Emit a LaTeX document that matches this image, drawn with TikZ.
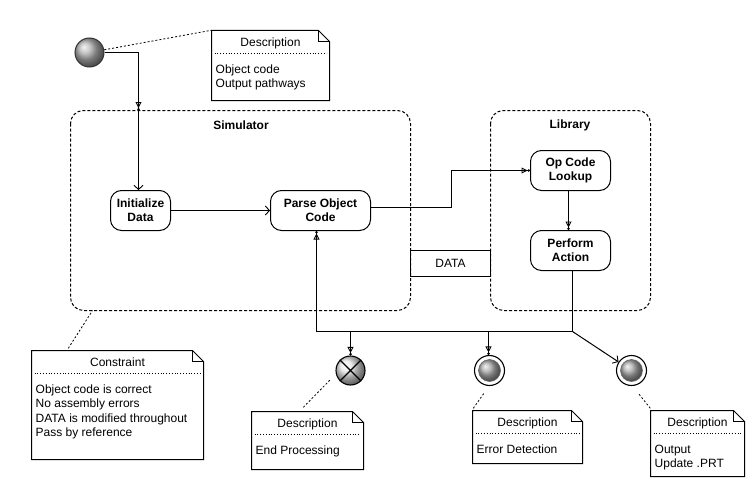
\documentclass[tikz,border=0pt]{standalone}
\usepackage{fontspec}
\setmainfont{Liberation Sans}
\usetikzlibrary{arrows.meta,calc,shadings}
\newcommand\umlnote[7]{%
  \node[minimum width={(#4-#2)*1pt}, minimum height={(#5-#3)*1pt}, inner sep=0pt] (#1) at ({(#2+#4)/2},{(#3+#5)/2}) {};
  \draw[noteline] (#2,#3) -- (#4-11,#3) -- (#4,#3+11) -- (#4,#5) -- (#2,#5) -- cycle;
  \draw[noteline] (#4-11,#3) -- (#4-11,#3+11) -- (#4,#3+11);
  \node[anchor=base] at ({(#2+#4)/2},#3+16) {#6};
  \draw[dotted, line width=0.8pt] (#2+3,#3+23) -- (#4-3,#3+23);
  \node[anchor=north west, inner sep=0pt, align=left] at (#2+4,#3+34) {#7};
}
\begin{document}
\begin{tikzpicture}[x=1pt, y=-1pt,
  font=\fontsize{12}{14.5}\selectfont,
  noteline/.style={draw, line width=1pt},
  act/.style={draw, line width=1pt, rounded corners=11pt, align=center, inner sep=0pt,
    font=\fontsize{12}{14}\selectfont\bfseries},
  part/.style={draw, line width=1pt, dash pattern=on 3pt off 2pt, rounded corners=13pt},
  conn/.style={line width=1pt},
  tri/.style={conn, -{Triangle[open,length=6pt,width=6pt,line width=0.9pt] Circle[length=2.5pt]}},
  vee/.style={conn, -{Straight Barb[length=4pt,width=9pt,line width=0.9pt]}},
  anchorline/.style={line width=0.8pt, dash pattern=on 2pt off 2pt}]
\fill[white] (0,0) rectangle (755,487);
\useasboundingbox (0,0) rectangle (755,487);

% partitions
\draw[part] (70.5,110.5) rectangle (410.5,310.5);
\draw[part] (490.5,110.5) rectangle (650.5,310.5);
\node[font=\fontsize{12}{14}\selectfont\bfseries] (simlabel) at (241,125) {Simulator};
\node[font=\fontsize{12}{14}\selectfont\bfseries] (liblabel) at (570,125) {Library};
\coordinate (simsw) at (70.5,310.5);

% data box
\node[draw, line width=1pt, minimum width=80pt, minimum height=26pt, inner sep=0pt] (data) at (450.5,263.5) {DATA};

% activities
\node[act, minimum width=60pt, minimum height=40pt] (init) at (140.5,210.5) {Initialize\\Data};
\node[act, minimum width=100pt, minimum height=40pt] (parse) at (320.5,210.5) {Parse Object\\Code};
\node[act, minimum width=80pt, minimum height=40pt] (opc) at (570.5,170.5) {Op Code\\Lookup};
\node[act, minimum width=80pt, minimum height=40pt] (perf) at (570.5,250.5) {Perform\\Action};

% start / end states
\node[circle, minimum size=29pt, inner sep=0pt, draw=black!80, line width=1pt, shading=ball, ball color=gray!60] (start) at (89.5,52.5) {};
\node[circle, minimum size=29pt, inner sep=0pt, draw, line width=1.1pt, shading=ball, ball color=gray!18] (endc) at (350.5,370.5) {};
\draw[line width=1.1pt] (endc.north west) -- (endc.south east) (endc.north east) -- (endc.south west);
\node[circle, minimum size=30pt, inner sep=0pt, draw, line width=1.1pt, fill=white] (errc) at (489.5,370.5) {};
\shade[ball color=gray!65] (errc.center) circle (11);
\draw[black!60, line width=0.6pt] (errc.center) circle (11);
\node[circle, minimum size=30pt, inner sep=0pt, draw, line width=1.1pt, fill=white] (outc) at (631.5,370.5) {};
\shade[ball color=gray!65] (outc.center) circle (11);
\draw[black!60, line width=0.6pt] (outc.center) circle (11);

% connectors
\coordinate (e1) at (138.5,110.5);
\draw[tri] (start.east) -| (e1);
\draw[vee] (e1) -- (e1 |- init.north);
\draw[vee] (init.east) -- (parse.west);
\draw[tri] ([yshift=3pt]parse.east) -- ++(80,0) |- (opc.west);
\draw[tri] ([xshift=-2pt]opc.south) -- ([xshift=-2pt]perf.north);
\coordinate (j) at (572.5,331.5);
\coordinate (k) at (316.5,331.5);
\draw[conn] ([xshift=2pt]perf.south) -- (j);
\draw[tri] (j) -- (k) -- (k |- parse.south);
\draw[tri] (endc.north |- j) -- (endc.north);
\draw[tri] ([xshift=-1pt]errc.north |- j) -- ([xshift=-1pt]errc.north);
\draw[vee] (j) -- (outc);

% notes
\umlnote{n1}{211.5}{30.5}{329.5}{100.5}{Description}{Object code\\Output pathways}
\umlnote{n2}{31.5}{350.5}{203.5}{459.5}{Constraint}{Object code is correct\\No assembly errors\\DATA is modified throughout\\Pass by reference}
\umlnote{n3}{251.5}{411.5}{363.5}{469.5}{Description}{End Processing}
\umlnote{n4}{472.5}{410.5}{582.5}{463.5}{Description}{Error Detection}
\umlnote{n5}{650.5}{410.5}{744.5}{476.5}{Description}{Output\\Update .PRT}

% note anchors
\draw[anchorline] (start) -- (n1.north west);
\draw[anchorline] ($(n2.north west)+(37,-2)$) -- ($(simsw)+(22,0)$);
\draw[anchorline] ($(n3.north west)+(52,-4)$) -- ($(endc.center)+(-20,9)$);
\draw[anchorline] ($(n4.north west)+(1,-2)$) -- ($(errc.center)+(-5,22)$);
\draw[anchorline] ($(n5.north west)+(0,-2)$) -- ($(outc.center)+(7,23)$);
\end{tikzpicture}
\end{document}
